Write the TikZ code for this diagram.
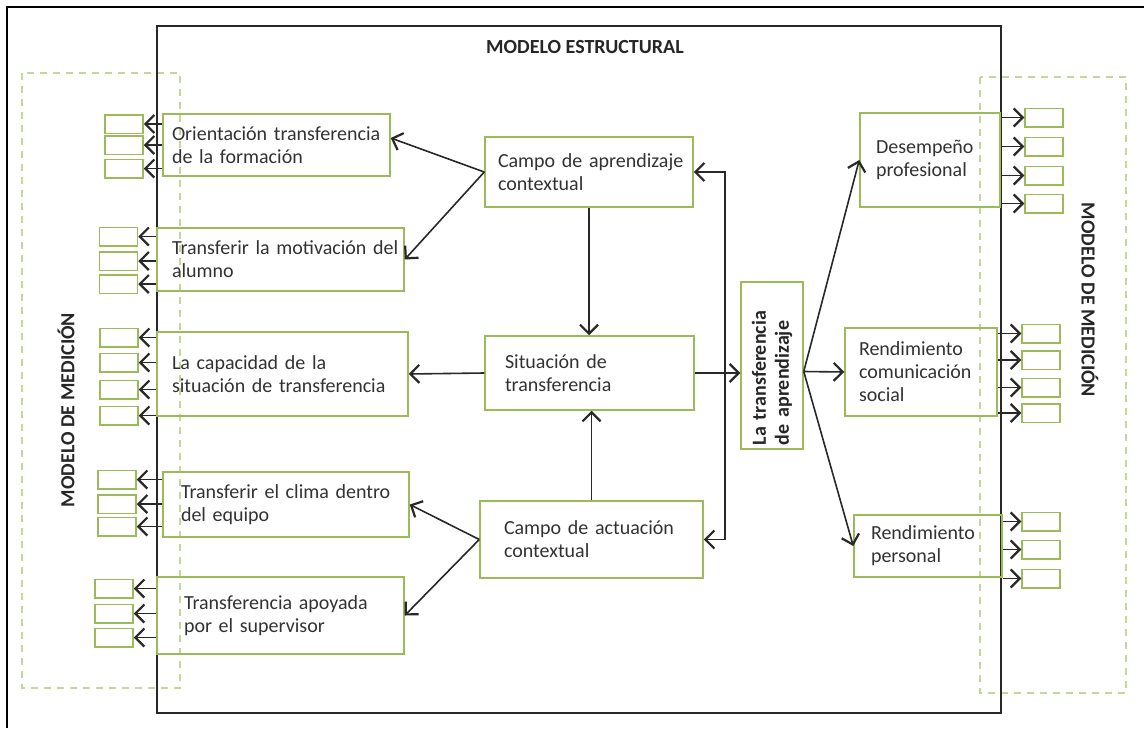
\documentclass[tikz,border=0pt]{standalone}
\usepackage{fontspec}
\setmainfont{Carlito}
\usepackage{xcolor}
\usepackage{tikz}
\usetikzlibrary{arrows.meta}
\definecolor{boxgreen}{RGB}{155,187,89}
\definecolor{dashgreen}{RGB}{196,215,155}
\definecolor{framegray}{RGB}{40,40,40}
\definecolor{textgray}{RGB}{50,50,50}

\begin{document}
\begin{tikzpicture}[x=0.5pt,y=-0.5pt,
    font=\fontsize{10}{11.5}\selectfont,
    box/.style={draw=boxgreen,line width=0.75pt,align=left,inner sep=0pt,text=textgray},
    ind/.style={draw=boxgreen,line width=0.75pt,minimum width=19pt,minimum height=9.25pt,inner sep=0pt},
    link/.style={->,line width=0.8pt,framegray},
    zone/.style={dashgreen,line width=1pt,dash pattern=on 3.5pt off 3pt},
    tag/.style={font=\fontsize{10}{11.5}\selectfont\bfseries,text=black!85},
    >={Straight Barb[length=4.5pt,width=9pt,line width=1.1pt]}]
    \useasboundingbox (0,0) rectangle (1144,728);
    % Page frame
    \draw[line width=1.3pt,black] (7,728) -- (7,7) -- (1144,7);

    % Measurement zones
    \draw[zone] (22,73) rectangle (180,688);
    \draw[zone] (980,77) rectangle (1126,693);
    \node[tag,rotate=90] (medleft) at (66,410) {MODELO DE MEDICIÓN};
    \node[tag,rotate=-90] (medright) at (1090,300) {MODELO DE MEDICIÓN};

    % Structural model
    \draw[line width=1pt,framegray] (157,26) rectangle (1001,713);
    \node[tag] (title) at (585,47) {MODELO ESTRUCTURAL};

    % Left factors
    \node[box,minimum width=113.5pt,minimum height=31pt,text width=104.5pt] (orient) at (276.5,145) {\mbox{Orientación transferencia}\\de la formación};
    \node[box,minimum width=123.5pt,minimum height=31.5pt,text width=108.5pt] (motiv) at (280.5,259.5) {\mbox{Transferir la motivación del}\\alumno};
    \node[box,minimum width=125.5pt,minimum height=42pt,text width=110.5pt] (capac) at (282.5,374) {La capacidad de la\\\mbox{situación de transferencia}};
    \node[box,minimum width=123pt,minimum height=32.5pt,text width=105pt] (clima) at (286,504.5) {\mbox{Transferir el clima dentro}\\del equipo};
    \node[box,minimum width=123.5pt,minimum height=38.5pt,text width=96.5pt] (apoyo) at (280.5,615.5) {\mbox{Transferencia apoyada}\\por el supervisor};

    % Centre
    \node[box,minimum width=104pt,minimum height=35pt,text width=91pt] (aprend) at (589,172) {\mbox{Campo de aprendizaje}\\contextual};
    \node[box,minimum width=104.5pt,minimum height=37pt,text width=84.5pt] (situac) at (589.5,373) {Situación de\\transferencia};
    \node[box,minimum width=111.5pt,minimum height=38.5pt,text width=87.5pt] (actuac) at (591.5,539.5) {\mbox{Campo de actuación}\\contextual};
    \node[box,tag,rotate=90,minimum width=83.5pt,minimum height=31pt,text width=79.5pt] (transf) at (772,365.5) {La transferencia\\de aprendizaje};

    % Right outcomes
    \node[box,minimum width=70pt,minimum height=47pt,text width=54pt] (desemp) at (930,160) {Desempeño\\profesional};
    \node[box,minimum width=76pt,minimum height=44pt,text width=62pt] (rendcom) at (921,372) {Rendimiento\\comunicación\\social};
    \node[box,minimum width=74pt,minimum height=31pt,text width=57pt] (rendpers) at (928,546) {Rendimiento\\personal};

    % Indicators
    \foreach \src/\x/\ys in {orient/124/{124,145,168.5}, motiv/118.5/{236.5,261,284},
        capac/119/{337.5,362.5,389.5,415.5}, clima/117/{479.5,504,526.5}, apoyo/114/{588.5,613.5,637.5}}
      \foreach \y [count=\i] in \ys {
        \node[ind] (\src-\i) at (\x,\y) {};
        \draw[link] (\src.west |- \src-\i) -- (\src-\i.east);
      }
    \foreach \src/\x/\ys in {desemp/1044/{117.5,146.5,175.5,203.5}, rendcom/1041/{333.5,360,387.5,413},
        rendpers/1041/{521.5,549.5,578.5}}
      \foreach \y [count=\i] in \ys {
        \node[ind] (\src-\i) at (\x,\y) {};
        \draw[link] (\src.east |- \src-\i) -- (\src-\i.west);
      }

    % Paths
    \draw[link] (aprend.west) -- ([yshift=3.5pt]orient.east);
    \draw[link] (aprend.west) -- (motiv.east);
    \draw[link] (aprend.south) -- (aprend.south |- situac.north);
    \draw[link] (situac.west) -- (capac.east);
    \draw[link] (actuac.north) -- (actuac.north |- situac.south);
    \draw[link] (actuac.west) -- (clima.east);
    \draw[link] (actuac.west) -- (apoyo.east);
    \draw[link] (situac.east) -- (situac.east -| transf.north);
    \coordinate (loop) at (725,365);
    \draw[link,<->] (aprend.east) -- (aprend.east -| loop) -- (actuac.east -| loop) -- (actuac.east);
    \draw[link] ([yshift=-3pt]transf.south) -- (desemp.west);
    \draw[link] ([yshift=-3pt]transf.south) -- (rendcom.west);
    \draw[link] ([yshift=-3pt]transf.south) -- (rendpers.west);
\end{tikzpicture}
\end{document}
